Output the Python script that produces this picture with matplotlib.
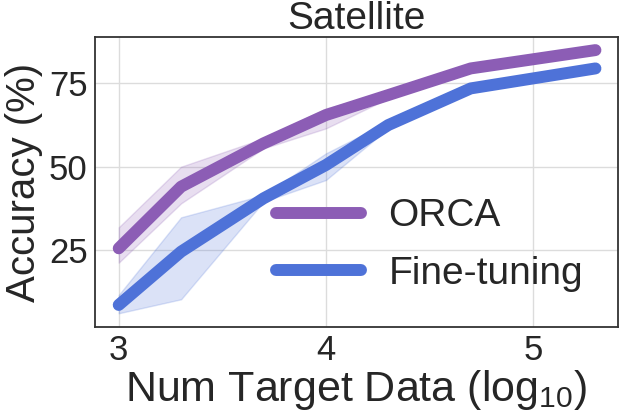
import numpy as np
import matplotlib
matplotlib.use("Agg")
import matplotlib.pyplot as plt

# num target samples (plotted as log10) and accuracy (%)
n_target = [1000, 2000, 5000, 10000, 20000, 50000, 200000]
orca_mean = [25.5, 44.0, 57.0, 65.5, 71.5, 79.5, 85.0]
orca_low = [21.2, 39.0, 55.5, 61.5, 70.5, 78.5, 84.5]
orca_high = [31.8, 50.0, 58.5, 67.5, 72.5, 80.5, 85.5]
ft_mean = [8.5, 24.5, 40.5, 50.5, 62.5, 73.5, 79.5]
ft_low = [6.0, 10.2, 39.5, 46.0, 61.5, 72.5, 79.0]
ft_high = [11.5, 34.8, 41.5, 54.0, 63.5, 74.5, 80.0]

plt.rcParams['font.family'] = ['Liberation Sans', 'DejaVu Sans']
plt.rcParams['mathtext.fontset'] = 'custom'
plt.rcParams['mathtext.rm'] = 'Liberation Sans'
plt.rcParams['text.color'] = '#262626'
plt.rcParams['axes.labelcolor'] = '#262626'
plt.rcParams['xtick.color'] = '#262626'
plt.rcParams['ytick.color'] = '#262626'

purple = '#8c5db5'
blue = '#4e72d8'

x = np.log10(n_target)

fig = plt.figure(figsize=(6.23, 4.17), dpi=100)
ax = fig.add_axes([0.152, 0.216, 0.840, 0.695])

ax.plot(x, orca_mean, color=purple, lw=8.6, solid_capstyle='round', label='ORCA', zorder=3)
ax.fill_between(x, orca_low, orca_high, color=purple, alpha=0.2, zorder=2)
ax.plot(x, ft_mean, color=blue, lw=8.6, solid_capstyle='round', label='Fine-tuning', zorder=3)
ax.fill_between(x, ft_low, ft_high, color=blue, alpha=0.2, zorder=2)

ax.set_xlim(2.884, 5.41)
ax.set_ylim(1.9, 88.9)
ax.set_xticks([3, 4, 5])
ax.set_yticks([25, 50, 75])
ax.tick_params(length=0, labelsize=25, pad=5)
ax.grid(True, color='#dcdcdc', lw=1.0)
ax.set_axisbelow(True)
for s in ax.spines.values():
    s.set_color('#333333')
    s.set_linewidth(1.3)

ax.set_title('Satellite', fontsize=28, pad=6)
ax.set_xlabel('Num Target Data (log$_{\\mathrm{10}}$)', fontsize=31, labelpad=1)
ax.set_ylabel('Accuracy (%)', fontsize=29, labelpad=4)

leg = ax.legend(loc='lower right', bbox_to_anchor=(1.0, 0.0), frameon=False,
                fontsize=28, handlelength=2.2, handletextpad=0.7, labelspacing=0.56)

plt.savefig('out.png', dpi=100)
